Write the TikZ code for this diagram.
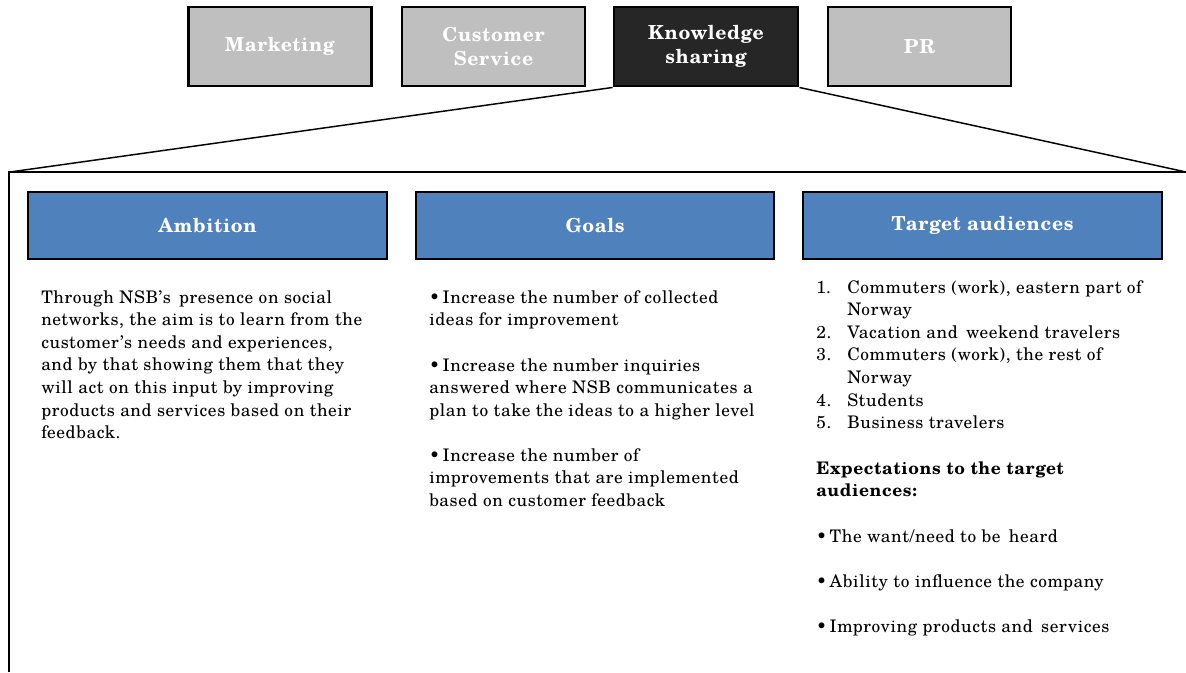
\documentclass[tikz,border=0pt]{standalone}
\usepackage{fontspec}
\setmainfont{TeX Gyre Schola}[LetterSpace=3.5]
\definecolor{boxgray}{HTML}{BFBFBF}
\definecolor{boxdark}{HTML}{262626}
\definecolor{boxblue}{HTML}{4F81BD}
\tikzset{
  tab/.style={draw=black, line width=2.2pt, fill=boxgray, text=white, align=center, inner sep=0pt,
    font=\fontsize{14.5}{18}\selectfont\bfseries},
  tabsel/.style={tab, fill=boxdark},
  head/.style={draw=black, line width=2.2pt, fill=boxblue, text=white, align=center, inner sep=0pt,
    font=\fontsize{14.5}{18}\selectfont\bfseries},
  ln/.style={anchor=base west, inner sep=0pt, font=\fontsize{13}{16}\selectfont},
  lnb/.style={ln, font=\fontsize{13}{16}\selectfont\bfseries},
  frame/.style={line width=1.1pt, black}
}
\begin{document}
\begin{tikzpicture}[x=0.75pt, y=-0.75pt]
\useasboundingbox (0,0) rectangle (1186,672);
% top tabs
\node[tab, minimum width=183*0.75pt, minimum height=79*0.75pt] (mkt) at (280,46.5) {Marketing};
\node[tab, minimum width=183*0.75pt, minimum height=79*0.75pt] (cs) at (493.5,46.5) {Customer\\Service};
\node[tabsel, minimum width=184*0.75pt, minimum height=79*0.75pt] (ks) at (706,46.5) {Knowledge\\sharing};
\node[tab, minimum width=183*0.75pt, minimum height=79*0.75pt] (pr) at (919.5,46.5) {PR};
% frame
\coordinate (fl) at (10,172);
\coordinate (fr) at (1186,172);
\coordinate (fb) at (9,672);
\draw[frame] (ks.south west) -- (fl);
\draw[frame] (ks.south east) -- (fr);
\draw[frame] (fb) -- (9,172) -- (fr);
% headers
\node[head, minimum width=359*0.75pt, minimum height=67*0.75pt] (amb) at (207.5,225.5) {Ambition};
\node[head, minimum width=358*0.75pt, minimum height=67*0.75pt] (goa) at (595,225.5) {Goals};
\node[head, minimum width=359*0.75pt, minimum height=67*0.75pt] (tar) at (982.5,225.5) {Target audiences};
% ambition text
\node[ln] (a1) at (41,303) {Through NSB’s\, presence on social};
\node[ln] (a2) at (41,325.6) {networks, the aim is to learn from the};
\node[ln] (a3) at (41,348.2) {customer’s needs and experiences,};
\node[ln] (a4) at (41,370.8) {and by that showing them that they};
\node[ln] (a5) at (41,393.4) {will act on this input by improving};
\node[ln] (a6) at (41,416) {products and services based on their};
\node[ln] (a7) at (41,438.6) {feedback.};
% goals text
\node[ln] (g1) at (429,303) {•\,Increase the number of collected};
\node[ln] (g2) at (429,325.6) {ideas for improvement};
\node[ln] (g3) at (429,371) {•\,Increase the number inquiries};
\node[ln] (g4) at (429,393.6) {answered where NSB communicates a};
\node[ln] (g5) at (429,416.2) {plan to take the ideas to a higher level};
\node[ln] (g6) at (429,461) {•\,Increase the number of};
\node[ln] (g7) at (429,483.6) {improvements that are implemented};
\node[ln] (g8) at (429,506.2) {based on customer feedback};
% target audiences
\node[ln] (n1) at (816,293) {1.};
\node[ln] (t1) at (847,293) {Commuters (work), eastern part of};
\node[ln] (t1b) at (847,315.6) {Norway};
\node[ln] (n2) at (816,338.2) {2.};
\node[ln] (t2) at (847,338.2) {Vacation and\, weekend travelers};
\node[ln] (n3) at (816,360.8) {3.};
\node[ln] (t3) at (847,360.8) {Commuters (work), the rest of};
\node[ln] (t3b) at (847,383.4) {Norway};
\node[ln] (n4) at (816,406) {4.};
\node[ln] (t4) at (847,406) {Students};
\node[ln] (n5) at (816,428.6) {5.};
\node[ln] (t5) at (847,428.6) {Business travelers};
\node[lnb] (e1) at (816,474) {Expectations to the target};
\node[lnb] (e2) at (816,496.6) {audiences:};
\node[ln] (b1) at (816,542) {•\,The want/need to be\, heard};
\node[ln] (b2) at (816,587) {•\,Ability to influence the company};
\node[ln] (b3) at (816,632) {•\,Improving products and\, services};
\end{tikzpicture}
\end{document}
